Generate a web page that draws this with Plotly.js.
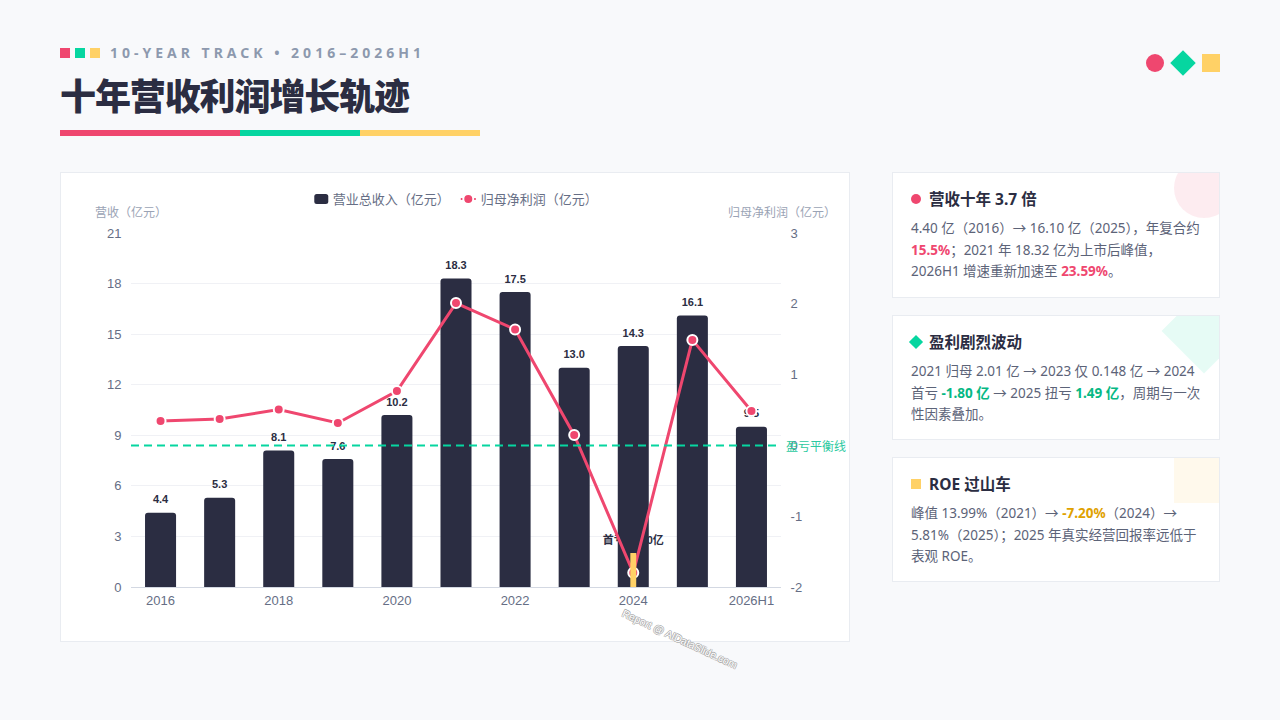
<!DOCTYPE html>
<html>
<head>
<meta charset="utf-8">
<script src="https://cdn.plot.ly/plotly-3.0.1.min.js"></script>
<style>
  * { box-sizing: border-box; margin: 0; padding: 0; }
  html, body { width: 1280px; height: 720px; overflow: hidden; background: #f8f9fb; font-family: "Noto Sans", "Noto Sans CJK SC", sans-serif; }
  .abs { position: absolute; }
  .sq { position: absolute; top: 48px; width: 10px; height: 10px; }
  #eyebrow { left: 110px; top: 43px; font-size: 14px; line-height: 20px; font-weight: 700; letter-spacing: 4px; color: #8d99ae; white-space: nowrap; }
  #title { left: 60px; top: 69px; font-size: 36px; line-height: 50px; font-weight: 900; letter-spacing: -1.1px; color: #2b2d42; white-space: nowrap; font-family: "Noto Sans CJK SC", sans-serif; }
  .rule { position: absolute; top: 130px; height: 6px; }
  #chartCard { left: 60px; top: 172px; width: 790px; height: 470px; background: #fff; border: 1px solid #e9ecf1; }
  #chart { left: 60px; top: 172px; width: 790px; height: 510px; }
  .card { position: absolute; left: 892px; width: 328px; background: #fff; border: 1px solid #e9ecf1; overflow: hidden; padding: 15px 18px 0 18px; }
  .deco { position: absolute; width: 60px; height: 60px; top: -15px; right: -15px; }
  .card h3 { font-size: 15.5px; line-height: 22px; font-weight: 700; color: #2b2d42; padding-left: 18px; position: relative; white-space: nowrap; }
  .icon { position: absolute; left: 0; top: 6px; width: 10px; height: 10px; }
  .card p { margin-top: 8px; font-size: 13.5px; line-height: 21.5px; color: #5c6378; }
  .pink { color: #ef476f; font-weight: 700; }
  .green { color: #06b884; font-weight: 700; }
  .gold { color: #e0a100; font-weight: 700; }
</style>
</head>
<body>
<div class="sq" style="left:60px;background:#ef476f"></div>
<div class="sq" style="left:75px;background:#06d6a0"></div>
<div class="sq" style="left:90px;background:#ffd166"></div>
<div id="eyebrow" class="abs">10-YEAR TRACK • 2016–2026H1</div>
<div id="title" class="abs">十年营收利润增长轨迹</div>
<div class="rule" style="left:60px;width:180px;background:#ef476f"></div>
<div class="rule" style="left:240px;width:120px;background:#06d6a0"></div>
<div class="rule" style="left:360px;width:120px;background:#ffd166"></div>

<div class="abs" style="left:1146px;top:54px;width:18px;height:18px;border-radius:50%;background:#ef476f"></div>
<div class="abs" style="left:1174px;top:54px;width:18px;height:18px;transform:rotate(45deg);background:#06d6a0"></div>
<div class="abs" style="left:1202px;top:54px;width:18px;height:18px;background:#ffd166"></div>

<div id="chartCard" class="abs"></div>
<div id="chart" class="abs"></div>

<div class="card" style="top:172px;height:126px">
  <div class="deco" style="border-radius:50%;background:#ef476f;opacity:.1"></div>
  <h3><span class="icon" style="border-radius:50%;background:#ef476f"></span>营收十年 3.7 倍</h3>
  <p>4.40 亿（2016）→ 16.10 亿（2025），年复合约 <span class="pink">15.5%</span>；2021 年 18.32 亿为上市后峰值，2026H1 增速重新加速至 <span class="pink">23.59%</span>。</p>
</div>
<div class="card" style="top:315px;height:125px">
  <div class="deco" style="transform:rotate(45deg);background:#06d6a0;opacity:.1"></div>
  <h3><span class="icon" style="transform:rotate(45deg);background:#06d6a0"></span>盈利剧烈波动</h3>
  <p>2021 归母 2.01 亿 → 2023 仅 0.148 亿 → 2024 首亏 <span class="green">-1.80 亿</span> → 2025 扭亏 <span class="green">1.49 亿</span>，周期与一次性因素叠加。</p>
</div>
<div class="card" style="top:457px;height:125px">
  <div class="deco" style="background:#ffd166;opacity:.12"></div>
  <h3><span class="icon" style="background:#ffd166"></span>ROE 过山车</h3>
  <p>峰值 13.99%（2021）→ <span class="gold">-7.20%</span>（2024）→ 5.81%（2025）；2025 年真实经营回报率远低于表观 ROE。</p>
</div>

<script>
// chart values
const years = ['2016', '2017', '2018', '2019', '2020', '2021', '2022', '2023', '2024', '2025', '2026H1'];
const revenue = [4.4, 5.3, 8.1, 7.6, 10.2, 18.3, 17.5, 13.0, 14.3, 16.1, 9.5];
const profit = [0.345, 0.373, 0.507, 0.316, 0.768, 2.01, 1.637, 0.148, -1.80, 1.49, 0.486];
const xTicks = ['2016', '2018', '2020', '2022', '2024', '2026H1'];
const revTicks = [0, 3, 6, 9, 12, 15, 18, 21];
const profitTicks = [-2, -1, 0, 1, 2, 3];
const lossYear = ['2024'];
const lossLabelY = [-1.35];
const lossText = ['首亏 -1.80亿'];

const dark = '#2b2d42';
const pink = '#ef476f';
const green = '#06d6a0';
const yellow = '#ffd166';
const clear = 'rgba(0,0,0,0)';
const tickFont = {family: 'Liberation Sans, Arial, sans-serif', size: 13, color: '#666e85'};

let barTrace = {
    type: 'bar',
    name: '营业总收入（亿元）',
    x: years,
    y: revenue,
    marker: {color: dark},
    hoverinfo: 'skip'
};
// invisible markers only push the value text up off the bar
let barLabels = {
    type: 'scatter',
    mode: 'markers+text',
    x: years,
    y: revenue,
    marker: {size: 9, opacity: 0},
    text: revenue.map(v => v.toFixed(1)),
    textposition: 'top center',
    textfont: {family: 'Liberation Sans, Arial, sans-serif', size: 11, color: dark, weight: 700},
    showlegend: false,
    cliponaxis: false,
    hoverinfo: 'skip'
};
// sits under the profit line, same colour as the bars
let lossLabel = {
    type: 'scatter',
    mode: 'text',
    x: lossYear,
    y: lossLabelY,
    yaxis: 'y2',
    text: lossText,
    textposition: 'middle center',
    textfont: {family: 'Liberation Sans, Noto Sans CJK SC, sans-serif', size: 11, color: dark, weight: 700},
    showlegend: false,
    cliponaxis: false,
    hoverinfo: 'skip'
};
let profitTrace = {
    type: 'scatter',
    mode: 'lines+markers',
    name: '归母净利润（亿元）',
    x: years,
    y: profit,
    yaxis: 'y2',
    line: {color: pink, width: 3},
    marker: {color: pink, size: 10, line: {color: '#fff', width: 2}},
    cliponaxis: false,
    hoverinfo: 'skip'
};

let layout = {
    width: 790,
    height: 510,
    margin: {l: 71, r: 69, t: 61, b: 95},
    paper_bgcolor: clear,
    plot_bgcolor: clear,
    bargap: 0.475,
    barcornerradius: 3,
    font: {family: 'Liberation Sans, Noto Sans CJK SC, sans-serif', size: 13, color: '#666e85'},
    xaxis: {
        type: 'category',
        categoryorder: 'array',
        categoryarray: years,
        range: [-0.5, 10.5],
        tickmode: 'array',
        tickvals: xTicks,
        ticktext: xTicks,
        tickfont: tickFont,
        ticks: 'outside',
        ticklen: 1,
        tickcolor: clear,
        showgrid: false,
        showline: true,
        linecolor: '#d3d8e2',
        linewidth: 1,
        zeroline: false
    },
    yaxis: {
        range: [0, 21],
        tickmode: 'array',
        tickvals: revTicks,
        ticktext: revTicks.map(String),
        tickfont: tickFont,
        ticks: 'outside',
        ticklen: 6,
        tickcolor: clear,
        gridcolor: '#f0f1f5',
        gridwidth: 1,
        zeroline: false,
        showline: false
    },
    yaxis2: {
        overlaying: 'y',
        side: 'right',
        range: [-2, 3],
        tickmode: 'array',
        tickvals: profitTicks,
        ticktext: profitTicks.map(String),
        tickfont: tickFont,
        ticks: 'outside',
        ticklen: 6,
        tickcolor: clear,
        showgrid: false,
        zeroline: false,
        showline: false
    },
    legend: {
        orientation: 'h',
        xref: 'container',
        yref: 'container',
        x: 0.482,
        xanchor: 'center',
        y: 0.947,
        yanchor: 'middle',
        entrywidth: 103,
        entrywidthmode: 'pixels',
        font: {family: 'Noto Sans CJK SC, sans-serif', size: 13, color: '#666e85'},
        bgcolor: clear
    },
    shapes: [
        {type: 'line', xref: 'paper', x0: 0, x1: 1, yref: 'y2', y0: 0, y1: 0, layer: 'above',
            line: {color: green, width: 2, dash: '8px,5px'}},
        // yellow flag on the loss year
        {type: 'rect', xref: 'x', x0: 7.95, x1: 8.05, yref: 'y2', y0: -2.07, y1: -1.52, layer: 'above',
            fillcolor: yellow, line: {width: 0}}
    ],
    annotations: [
        {xref: 'paper', yref: 'paper', x: -0.058, y: 1.06, xanchor: 'left', yanchor: 'middle', showarrow: false,
            text: '营收（亿元）', font: {family: 'Noto Sans CJK SC, sans-serif', size: 12, color: '#9aa3b5'}},
        {xref: 'paper', yref: 'paper', x: 1.0875, y: 1.06, xanchor: 'right', yanchor: 'middle', showarrow: false,
            text: '归母净利润（亿元）', font: {family: 'Noto Sans CJK SC, sans-serif', size: 12, color: '#9aa3b5'}},
        {xref: 'paper', x: 1.0, xanchor: 'left', xshift: 3, yref: 'y2', y: 0, yanchor: 'middle', showarrow: false,
            text: '盈亏平衡线', font: {family: 'Noto Sans CJK SC, sans-serif', size: 12, color: '#2cc9a0'}},
        {xref: 'paper', yref: 'paper', x: 0.845, y: -0.147, xanchor: 'center', yanchor: 'middle', showarrow: false,
            textangle: 25, text: 'Report @ AIDataSlide.com',
            font: {family: 'Liberation Sans, sans-serif', size: 10.5, color: '#ffffff',
                shadow: '0.6px 0.6px 0.5px #aaa, -0.6px -0.6px 0.5px #aaa, 0.6px -0.6px 0.5px #aaa, -0.6px 0.6px 0.5px #aaa'}}
    ]
};

Plotly.newPlot('chart', [barTrace, barLabels, lossLabel, profitTrace], layout, {displayModeBar: false, staticPlot: true}).then(function () {
    // legend keys in the picture are smaller than what plotly draws by default
    let items = document.querySelectorAll('#chart .legend .traces');
    let box = items[0].querySelector('.legendpoints path');
    box.setAttribute('d', 'M-4.5,-5H4.5Q7,-5 7,-2.5V2.5Q7,5 4.5,5H-4.5Q-7,5 -7,2.5V-2.5Q-7,-5 -4.5,-5Z');
    box.setAttribute('transform', 'translate(28.5,0)');
    let key = items[1].querySelector('.js-line');
    key.setAttribute('d', 'M20,0h15');
    key.style.strokeDasharray = '3,9,3';
    key.style.strokeWidth = '2px';
    items[1].querySelector('.legendpoints path').setAttribute('transform', 'translate(27.5,0)');
});
</script>
</body>
</html>
